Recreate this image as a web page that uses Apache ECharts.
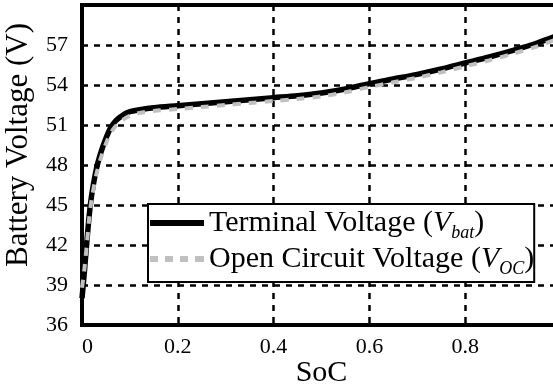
<!DOCTYPE html>
<html><head><meta charset="utf-8">
<script src="https://cdn.jsdelivr.net/npm/echarts@6/dist/echarts.min.js"></script>
<style>html,body{margin:0;padding:0;background:#fff}#c{width:553px;height:390px}</style>
</head><body><div id="c"></div>
<script>
const soc = [0, 0.005, 0.01, 0.015, 0.02, 0.03, 0.04, 0.05, 0.06, 0.07, 0.08, 0.09, 0.1, 0.12, 0.15, 0.2, 0.25, 0.3, 0.35, 0.4, 0.45, 0.5, 0.55, 0.6, 0.65, 0.7, 0.75, 0.8, 0.85, 0.9, 0.95, 1.0];
const vBat = [38.0, 40.0, 42.2, 44.2, 45.7, 47.7, 49.0, 50.0, 50.8, 51.3, 51.6, 51.85, 52.0, 52.15, 52.3, 52.45, 52.6, 52.75, 52.9, 53.05, 53.2, 53.4, 53.7, 54.1, 54.45, 54.8, 55.2, 55.65, 56.1, 56.6, 57.15, 57.8];
const vOc = [38.8, 40.2, 42.0, 44.0, 45.4, 47.3, 48.6, 49.6, 50.4, 50.9, 51.25, 51.5, 51.7, 51.9, 52.05, 52.2, 52.35, 52.5, 52.65, 52.8, 52.95, 53.15, 53.45, 53.85, 54.2, 54.55, 54.95, 55.4, 55.85, 56.35, 56.9, 57.55];
const xTicks = [0, 0.2, 0.4, 0.6, 0.8];
const yTicks = [36, 39, 42, 45, 48, 51, 54, 57];
const seriesNames = ['Terminal Voltage', 'Open Circuit Voltage'];
const legendSubs = {'Terminal Voltage': 'bat', 'Open Circuit Voltage': 'OC'};

const F = 'Liberation Serif';
const chart = echarts.init(document.getElementById('c'), null, {renderer: 'canvas'});
chart.setOption({
  animation: false,
  backgroundColor: '#fff',
  grid: {left: 82, top: 5, bottom: 65, right: -8, outerBoundsMode: 'none', containLabel: false,
    show: true, borderColor: '#000', borderWidth: 4, backgroundColor: 'transparent'},
  xAxis: {
    type: 'value', min: 0, max: 1, interval: 0.2,
    name: 'SoC', nameLocation: 'middle', nameGap: 33, nameMoveOverlap: false,
    nameTextStyle: {fontFamily: F, fontSize: 30, color: '#000'},
    axisLine: {show: false}, axisTick: {show: false},
    axisLabel: {fontFamily: F, fontSize: 22, color: '#000', margin: 11,
      showMaxLabel: false,
      formatter: v => xTicks.includes(Math.round(v*10)/10) ? (v === 0 ? '{z|0}' : String(Math.round(v*10)/10)) : '',
      rich: {z: {fontFamily: F, fontSize: 22, color: '#000', padding: [0, 0, 0, 11]}}},
    splitLine: {show: true, lineStyle: {color: '#000', width: 2.5, type: [6, 6]}}
  },
  yAxis: {
    type: 'value', min: 36, max: 60, interval: 3,
    name: 'Battery Voltage (V)', nameLocation: 'middle', nameGap: 48, nameMoveOverlap: false,
    nameTextStyle: {fontFamily: F, fontSize: 31, color: '#000', padding: [0, 0, 0, 40]},
    axisLine: {show: false}, axisTick: {show: false},
    axisLabel: {fontFamily: F, fontSize: 22, color: '#000', margin: 14,
      formatter: v => yTicks.includes(v) ? String(v) : ''},
    splitLine: {show: true, lineStyle: {color: '#000', width: 2.5, type: [6, 6]}}
  },
  legend: {
    orient: 'vertical', left: 148, top: 204,
    backgroundColor: '#fff', borderColor: '#000', borderWidth: 2,
    padding: [4, 0, 4, 2], itemGap: 2, itemWidth: 54, itemHeight: 6,
    data: [
      {name: seriesNames[0], icon: 'path://M0,0h54v6h-54z'},
      {name: seriesNames[1], icon: 'path://M0,0h8v6h-8zM15,0h8v6h-8zM30,0h8v6h-8zM45,0h9v6h-9z'}
    ],
    formatter: n => '{n|' + n + ' (}{i|V}{s|' + legendSubs[n] + '}{n|)}',
    textStyle: {fontFamily: F, fontSize: 30, color: '#000', padding: [0, 0, 0, 0],
      rich: {
        n: {fontFamily: F, fontSize: 30, color: '#000', lineHeight: 30, verticalAlign: 'bottom'},
        i: {fontFamily: F, fontSize: 30, fontStyle: 'italic', color: '#000', lineHeight: 30, verticalAlign: 'bottom'},
        s: {fontFamily: F, fontSize: 18, fontStyle: 'italic', color: '#000', lineHeight: 22, verticalAlign: 'bottom', padding: [0, 0, -4, 0]}
      }}
  },
  series: [
    {name: seriesNames[0], type: 'line', showSymbol: false, symbol: 'none', smooth: 0.3,
      data: soc.map((s, i) => [s, vBat[i]]),
      lineStyle: {color: '#000', width: 5.5}, itemStyle: {color: '#000'}, z: 2},
    {name: seriesNames[1], type: 'line', showSymbol: false, symbol: 'none', smooth: 0.3,
      data: soc.map((s, i) => [s, vOc[i]]),
      lineStyle: {color: '#c0c0c0', width: 4, type: [8, 8]}, itemStyle: {color: '#c0c0c0'}, z: 3}
  ]
});
</script></body></html>
